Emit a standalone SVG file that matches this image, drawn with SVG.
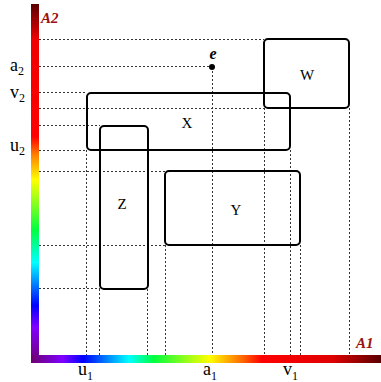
<svg xmlns="http://www.w3.org/2000/svg" width="381" height="382" viewBox="0 0 381 382">
<style>
.guide{stroke:#333;stroke-width:1;stroke-dasharray:2,2;fill:none}
.box{fill:none;stroke:#000;stroke-width:2}
.lbl{font-family:"Liberation Serif","Times New Roman",serif;font-size:15px;fill:#000;text-anchor:middle}
.tick{font-family:"Liberation Serif","Times New Roman",serif;font-size:18px;fill:#000}
.sub{font-size:12px}
.axis{font-family:"Liberation Serif","Times New Roman",serif;font-size:15px;font-weight:bold;font-style:italic;fill:#9b1111}
</style>
<defs>
<linearGradient id="gh" x1="0" y1="0" x2="1" y2="0">
<stop offset="0" stop-color="#6e0070"/>
<stop offset="0.09" stop-color="#8000ff"/>
<stop offset="0.15" stop-color="#0000ff"/>
<stop offset="0.28" stop-color="#00ffff"/>
<stop offset="0.35" stop-color="#00ff40"/>
<stop offset="0.51" stop-color="#ffff00"/>
<stop offset="0.59" stop-color="#ff8000"/>
<stop offset="0.66" stop-color="#ff0000"/>
<stop offset="0.86" stop-color="#e00000"/>
<stop offset="1" stop-color="#5a0000"/>
</linearGradient>
<linearGradient id="gv" x1="0" y1="1" x2="0" y2="0">
<stop offset="0" stop-color="#6e0070"/>
<stop offset="0.1" stop-color="#8000ff"/>
<stop offset="0.16" stop-color="#0000ff"/>
<stop offset="0.28" stop-color="#00ffff"/>
<stop offset="0.37" stop-color="#00ff40"/>
<stop offset="0.51" stop-color="#ffff00"/>
<stop offset="0.58" stop-color="#ff8000"/>
<stop offset="0.63" stop-color="#ff0000"/>
<stop offset="0.9" stop-color="#f00000"/>
<stop offset="1" stop-color="#5a0000"/>
</linearGradient>
</defs>
<rect width="381" height="382" fill="#fff"/>
<g id="axes">
<rect x="31" y="4" width="8" height="359" fill="url(#gv)"/>
<rect x="31" y="355" width="350" height="8" fill="url(#gh)"/>
<text class="axis" x="41" y="23">A2</text>
<text class="axis" x="356" y="348">A1</text>
</g>
<g id="guides">
<line class="guide" x1="39" y1="39.5" x2="264" y2="39.5"/>
<line class="guide" x1="39" y1="66.5" x2="212" y2="66.5"/>
<line class="guide" x1="39" y1="92.5" x2="87" y2="92.5"/>
<line class="guide" x1="39" y1="108.5" x2="264" y2="108.5"/>
<line class="guide" x1="39" y1="125.5" x2="100" y2="125.5"/>
<line class="guide" x1="39" y1="150.5" x2="87" y2="150.5"/>
<line class="guide" x1="39" y1="171.5" x2="165" y2="171.5"/>
<line class="guide" x1="39" y1="245.5" x2="165" y2="245.5"/>
<line class="guide" x1="39" y1="288.5" x2="100" y2="288.5"/>
<line class="guide" x1="86.5" y1="150" x2="86.5" y2="355"/>
<line class="guide" x1="99.5" y1="289" x2="99.5" y2="355"/>
<line class="guide" x1="147.5" y1="289" x2="147.5" y2="355"/>
<line class="guide" x1="165.5" y1="245" x2="165.5" y2="355"/>
<line class="guide" x1="212.5" y1="67" x2="212.5" y2="355"/>
<line class="guide" x1="264.5" y1="108" x2="264.5" y2="355"/>
<line class="guide" x1="290.5" y1="150" x2="290.5" y2="355"/>
<line class="guide" x1="300.5" y1="245" x2="300.5" y2="355"/>
<line class="guide" x1="349.5" y1="108" x2="349.5" y2="355"/>
</g>
<g id="W">
<rect class="box" x="264" y="39" width="85" height="69" rx="4"/>
<text class="lbl" x="307" y="80">W</text>
</g>
<g id="X">
<rect class="box" x="87" y="93" width="203" height="57" rx="4"/>
<text class="lbl" x="187" y="128">X</text>
</g>
<g id="Z">
<rect class="box" x="100" y="126" width="48" height="163" rx="4"/>
<text class="lbl" x="122" y="209">Z</text>
</g>
<g id="Y">
<rect class="box" x="165" y="171" width="135" height="74" rx="4"/>
<text class="lbl" x="236" y="215">Y</text>
</g>
<g id="e">
<circle cx="212" cy="67" r="3" fill="#000"/>
<text x="213" y="59" text-anchor="middle" font-family="Liberation Serif, serif" font-size="16" font-weight="bold" font-style="italic">e</text>
</g>
<g id="ticks">
<text class="tick" x="10" y="71">a<tspan class="sub" dy="4">2</tspan></text>
<text class="tick" x="10" y="98">v<tspan class="sub" dy="4">2</tspan></text>
<text class="tick" x="10" y="151">u<tspan class="sub" dy="4">2</tspan></text>
<text class="tick" x="78" y="375">u<tspan class="sub" dy="5">1</tspan></text>
<text class="tick" x="203" y="375">a<tspan class="sub" dy="5">1</tspan></text>
<text class="tick" x="283" y="375">v<tspan class="sub" dy="5">1</tspan></text>
</g>
</svg>
